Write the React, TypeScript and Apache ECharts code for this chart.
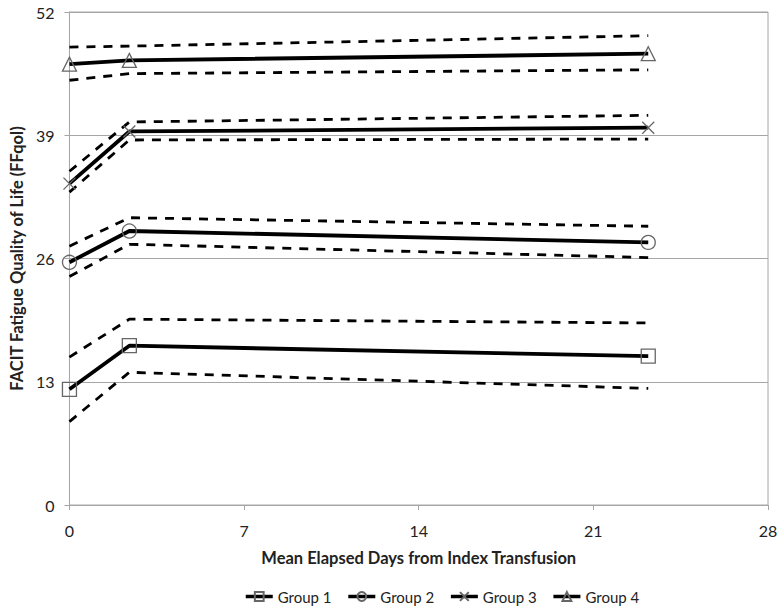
import React, { useEffect, useRef } from "react";
import * as echarts from "echarts";

const days = [0, 2.4, 23.2];
const groupNames = ["Group 1", "Group 2", "Group 3", "Group 4"];
const g1Mean = [12.2, 16.8, 15.7];
const g1Upper = [15.6, 19.6, 19.2];
const g1Lower = [8.8, 14.0, 12.3];
const g2Mean = [25.6, 28.9, 27.7];
const g2Upper = [27.3, 30.3, 29.4];
const g2Lower = [24.1, 27.5, 26.1];
const g3Mean = [33.9, 39.4, 39.8];
const g3Upper = [35.2, 40.4, 41.1];
const g3Lower = [33.0, 38.5, 38.6];
const g4Mean = [46.5, 46.9, 47.6];
const g4Upper = [48.3, 48.4, 49.5];
const g4Lower = [44.8, 45.5, 45.9];
const xTicks = [0, 7, 14, 21, 28];
const yTicks = [0, 13, 26, 39, 52];

const FONT = "Lato, 'Open Sans', sans-serif";
const symbols = [
  "rect",
  "circle",
  "path://M0,0L10,10M10,0L0,10",
  "triangle",
];

export default function App() {
  const ref = useRef<HTMLDivElement>(null);
  useEffect(() => {
    if (!ref.current) return;
    const chart = echarts.init(ref.current, undefined, { renderer: "svg" });
    const groups = [
      [g1Mean, g1Upper, g1Lower],
      [g2Mean, g2Upper, g2Lower],
      [g3Mean, g3Upper, g3Lower],
      [g4Mean, g4Upper, g4Lower],
    ];
    const pairs = (vals: number[]) => days.map((d, i) => [d, vals[i]]);
    const series: any[] = [];
    groups.forEach((g, gi) => {
      [1, 2].forEach((k) => {
        series.push({
          type: "line",
          name: groupNames[gi] + (k === 1 ? " upper" : " lower"),
          data: pairs(g[k]),
          symbol: "none",
          lineStyle: { color: "#000", width: 2.8, type: [9, 8] },
          z: 2,
        });
      });
      series.push({
        type: "line",
        name: groupNames[gi],
        data: pairs(g[0]),
        symbol: symbols[gi],
        symbolSize: gi === 2 ? 12 : 14,
        showSymbol: true,
        lineStyle: { color: "#000", width: 3.8 },
        itemStyle: {
          color: "rgba(255,255,255,0)",
          borderColor: "#666",
          borderWidth: 1.3,
        },
        z: 3,
      });
    });
    chart.setOption({
      animation: false,
      backgroundColor: "#fff",
      textStyle: { fontFamily: FONT },
      grid: {
        left: 68,
        right: 15,
        top: 12,
        bottom: 109,
        show: true,
        borderColor: "#a6a6a6",
        borderWidth: 1,
      },
      legend: {
        data: groupNames,
        bottom: 5,
        left: 239,
        itemWidth: 27,
        itemHeight: 11,
        itemGap: 15,
        lineStyle: { width: 3.5, color: "#000" },
        textStyle: { fontFamily: FONT, fontSize: 15, color: "#222" },
      },
      xAxis: {
        type: "value",
        min: 0,
        max: 28,
        interval: 7,
        name: "Mean Elapsed Days from Index Transfusion",
        nameLocation: "middle",
        nameGap: 44,
        nameTextStyle: { fontFamily: FONT, fontSize: 16.5, fontWeight: "bold", color: "#222" },
        axisLine: { lineStyle: { color: "#a6a6a6" } },
        axisTick: { show: true, length: 5, lineStyle: { color: "#a6a6a6" } },
        axisLabel: { fontFamily: FONT, fontSize: 16, color: "#222", margin: 17 },
        splitLine: { show: false },
      },
      yAxis: {
        type: "value",
        min: 0,
        max: 52,
        interval: 13,
        name: "FACIT Fatigue Quality of Life (FFqol)",
        nameLocation: "middle",
        nameGap: 42,
        nameTextStyle: { fontFamily: FONT, fontSize: 16.5, fontWeight: "bold", color: "#222" },
        axisLine: { show: true, lineStyle: { color: "#a6a6a6" } },
        axisTick: { show: true, length: 5, lineStyle: { color: "#a6a6a6" } },
        axisLabel: { fontFamily: FONT, fontSize: 16, color: "#222", margin: 15 },
        splitLine: { show: true, lineStyle: { color: "#a6a6a6", width: 1 } },
      },
      series,
    });
    return () => chart.dispose();
  }, []);
  return <div ref={ref} style={{ width: 783, height: 614, position: "absolute", left: 0, top: 0 }} />;
}
